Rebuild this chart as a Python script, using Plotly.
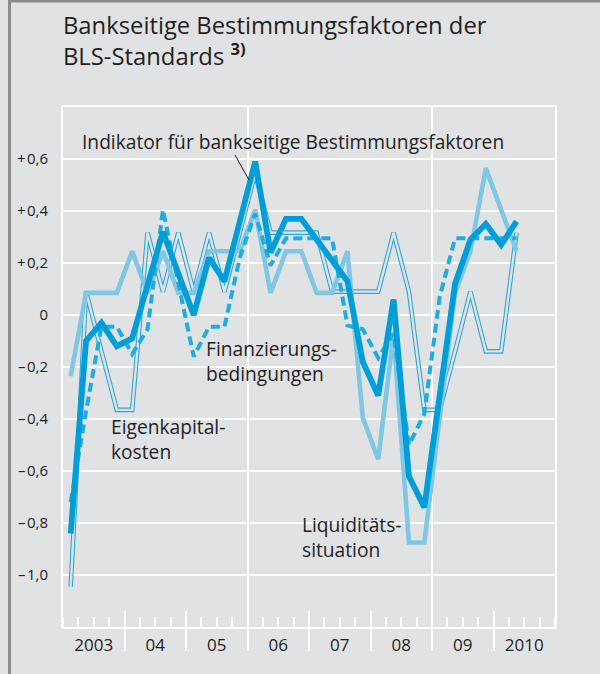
import plotly.graph_objects as go

# ---------------- data ----------------
years = [2003, 2004, 2005, 2006, 2007, 2008, 2009, 2010]
year_labels = ["2003", "04", "05", "06", "07", "08", "09", "2010"]
quarters = [f"{y} Q{q}" for y in years for q in (1, 2, 3, 4)][:30]   # 2003 Q1 .. 2010 Q2

# Indikator für bankseitige Bestimmungsfaktoren
indikator = [-0.84, -0.10, -0.03, -0.12, -0.09, 0.12, 0.32, 0.16,
             0.00, 0.22, 0.13, 0.36, 0.59, 0.24, 0.37, 0.37,
             0.29, 0.21, 0.13, -0.18, -0.31, 0.06, -0.62, -0.74,
             -0.30, 0.12, 0.29, 0.35, 0.27, 0.36]
# Finanzierungsbedingungen
finanzierung = [-0.72, -0.37, -0.045, -0.045, -0.15, -0.055, 0.405, 0.12,
                -0.16, -0.045, -0.045, 0.22, 0.39, 0.19, 0.295, 0.295,
                0.295, 0.295, -0.04, -0.055, -0.165, -0.07, -0.50, -0.38,
                0.07, 0.295, 0.295, 0.295, 0.295, 0.295]
# Liquiditätssituation
liquiditaet = [-0.235, 0.085, 0.085, 0.085, 0.245, 0.085, 0.245, 0.085,
               0.085, 0.245, 0.245, 0.245, 0.405, 0.085, 0.245, 0.245,
               0.085, 0.085, 0.245, -0.395, -0.555, -0.075, -0.875, -0.875,
               -0.395, 0.085, 0.245, 0.565, 0.405, 0.245]
# Eigenkapitalkosten
eigenkapital = [-1.045, 0.09, -0.14, -0.365, -0.365, 0.317, 0.09, 0.317,
                0.09, 0.317, 0.09, 0.317, 0.545, 0.317, 0.317, 0.317,
                0.317, 0.09, 0.09, 0.09, 0.09, 0.317, 0.09, -0.365,
                -0.365, -0.14, 0.09, -0.14, -0.14, 0.317]

y_tickvals = [0.6, 0.4, 0.2, 0.0, -0.2, -0.4, -0.6, -0.8, -1.0]
y_ticktext = ["+\u200a0,6", "+\u200a0,4", "+\u200a0,2", "0", "\u2013\u200a0,2",
              "\u2013\u200a0,4", "\u2013\u200a0,6", "\u2013\u200a0,8", "\u2013\u200a1,0"]

# ---------------- styling ----------------
BG = "#e1e2e4"
TXT = "#231f20"
FONT = "Open Sans"
W, H = 600, 674
L, R, T, B = 63, 45, 107, 47
PW, PH = W - L - R, H - T - B

def px_x(px):
    return (px - L) / PW

def px_y(py):
    return (H - B - py) / PH

# quarter midpoints on a continuous year axis
xq = [int(q[:4]) + (int(q[-1]) - 0.5) / 4 for q in quarters]
x_range = [years[0], years[-1] + 1]
year_mid = [y + 0.5 for y in years]
year_bounds = years[1:]
vgrid_years = [2006, 2009]

fig = go.Figure()
fig.add_trace(go.Scatter(x=xq, y=eigenkapital, mode="lines",
                         line=dict(color="#2aa9df", width=4.6), hoverinfo="skip"))
fig.add_trace(go.Scatter(x=xq, y=eigenkapital, mode="lines",
                         line=dict(color=BG, width=2.4), hoverinfo="skip"))
fig.add_trace(go.Scatter(x=xq, y=liquiditaet, mode="lines",
                         line=dict(color="#80c6e5", width=4.6)))
fig.add_trace(go.Scatter(x=xq, y=finanzierung, mode="lines",
                         line=dict(color="#1fade1", width=4, dash="9px,5px")))
fig.add_trace(go.Scatter(x=xq, y=indikator, mode="lines",
                         line=dict(color="#009ed8", width=5.8)))
# empty traces so that the helper axes (ticks, labels, grid) get drawn
for ax in ("x2", "x3", "x4"):
    fig.add_trace(go.Scatter(x=[], y=[], xaxis=ax, yaxis="y", mode="lines",
                             hoverinfo="skip", showlegend=False))

axis_common = dict(range=x_range, zeroline=False, fixedrange=True)

fig.update_layout(
    width=W, height=H,
    margin=dict(l=L, r=R, t=T, b=B, pad=0),
    paper_bgcolor=BG, plot_bgcolor=BG,
    showlegend=False,
    font=dict(family=FONT, color=TXT),
    xaxis=dict(**axis_common, showgrid=False, showline=True, mirror=True,
               linecolor="white", linewidth=2,
               tickmode="array", tickvals=year_bounds, ticks="outside",
               ticklen=22, tickwidth=2, tickcolor="white", showticklabels=False,
               minor=dict(dtick=0.25, tick0=years[0], ticks="inside", ticklen=10,
                          tickwidth=2, tickcolor="white", showgrid=False)),
    xaxis2=dict(**axis_common, overlaying="x", anchor="y", side="bottom",
                showgrid=False, showline=False, tickmode="array",
                tickvals=year_bounds, ticks="inside", ticklen=16, tickwidth=2,
                tickcolor="white", showticklabels=False),
    xaxis3=dict(**axis_common, overlaying="x", anchor="y", side="bottom",
                showgrid=False, showline=False, tickmode="array",
                tickvals=year_mid, ticktext=year_labels, ticks="",
                tickfont=dict(size=17, color=TXT, family=FONT),
                ticklabelstandoff=6),
    xaxis4=dict(**axis_common, overlaying="x", anchor="y", side="bottom",
                showgrid=True, gridcolor="white", gridwidth=2, showline=False,
                tickmode="array", tickvals=vgrid_years, ticks="",
                showticklabels=False),
    yaxis=dict(range=[-1.2, 0.8], tickmode="array", tickvals=y_tickvals,
               ticktext=y_ticktext, showgrid=True, gridcolor="white", gridwidth=2,
               zeroline=False, showline=True, mirror=True, linecolor="white",
               linewidth=2, ticks="", tickfont=dict(size=15, color=TXT, family=FONT),
               ticklabelstandoff=10, fixedrange=True),
)

LBL = 19.2

def text_block(txt, x_left, y_center, size=LBL):
    fig.add_annotation(xref="paper", yref="paper", x=px_x(x_left - 1), y=px_y(y_center),
                       xanchor="left", yanchor="middle", align="left", showarrow=False,
                       text=txt, borderpad=0,
                       font=dict(family=FONT, size=size, color=TXT))

def cut_box(x0, x1, y0, y1):
    # background patch that interrupts the grid lines behind a label
    fig.add_shape(type="rect", xref="paper", yref="paper", layer="between",
                  x0=px_x(x0), x1=px_x(x1), y0=px_y(y1), y1=px_y(y0),
                  fillcolor=BG, line=dict(width=0))

# title
text_block("Bankseitige Bestimmungsfaktoren der<br>BLS-Standards <b><sup>3)</sup></b>",
           63, 40, size=23.8)

# series labels
cut_box(80, 502, 131, 157)
text_block("Indikator für bankseitige Bestimmungsfaktoren", 82, 141.5)
# leader line from the label to the indicator line
fig.add_shape(type="line", xref="paper", yref="paper",
              x0=px_x(235), y0=px_y(155), x1=px_x(249), y1=px_y(180),
              line=dict(color=TXT, width=1))

cut_box(199, 334, 335, 386)
text_block("Finanzierungs-<br>bedingungen", 206, 360.5)

cut_box(103, 233, 417, 462)
text_block("Eigenkapital-<br>kosten", 111, 438.5)

cut_box(293, 430, 512, 562)
text_block("Liquiditäts-<br>situation", 302, 536.5)

# outer frame (top and left rules)
frame = "#8a8b8e"
fig.add_shape(type="line", xref="paper", yref="paper",
              x0=px_x(9.5), x1=px_x(9.5), y0=px_y(0), y1=px_y(H),
              line=dict(color=frame, width=3))
fig.add_shape(type="line", xref="paper", yref="paper",
              x0=px_x(8), x1=px_x(W), y0=px_y(1), y1=px_y(1),
              line=dict(color=frame, width=3))

fig.write_html("out.html",
               config={"displayModeBar": False},
               post_script="document.body.style.margin='0';"
                           "document.body.style.background='" + BG + "';")
